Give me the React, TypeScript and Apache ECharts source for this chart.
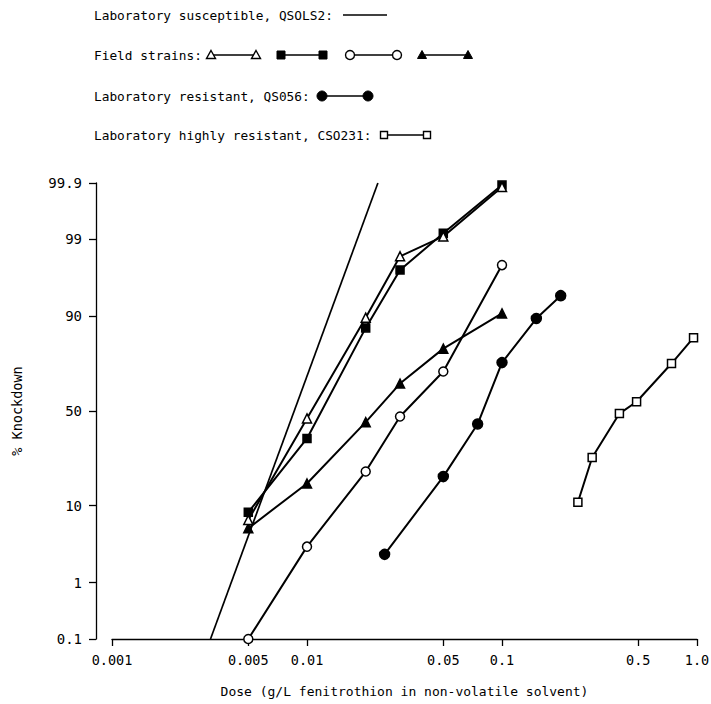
import { useEffect, useRef } from "react";
import * as echarts from "echarts";

// ---- Axis ticks ----
const xTickValues = [0.001, 0.005, 0.01, 0.05, 0.1, 0.5, 1.0];
const xTickLabels = ["0.001", "0.005", "0.01", "0.05", "0.1", "0.5", "1.0"];
const yTickValues = [0.1, 1, 10, 50, 90, 99, 99.9];
const yTickLabels = ["0.1", "1", "10", "50", "90", "99", "99.9"];

// ---- Series data (dose g/L, % knockdown) ----
const susceptibleDoses = [0.0032, 0.0231];
const susceptiblePct = [0.1, 99.9];

const fieldDoses = [0.005, 0.01, 0.02, 0.03, 0.05, 0.1];
const fieldOpenTriangle = [7, 46, 89.7, 98.2, 99.1, 99.88];
const fieldFilledSquare = [8.5, 35.5, 87, 97.2, 99.2, 99.89];
const fieldOpenCircle = [0.1, 3.3, 20.6, 47, 70.4, 97.6];
const fieldFilledTriangle = [5.6, 16.3, 44, 64.5, 80.1, 90.7];

const qs056Doses = [0.025, 0.05, 0.075, 0.1, 0.15, 0.2];
const qs056Pct = [2.6, 18.7, 43, 74.4, 89.5, 94.1];

const cso231Doses = [0.245, 0.29, 0.4, 0.49, 0.74, 0.96];
const cso231Pct = [10.8, 26.4, 48.6, 55, 74, 84];

const FONT = "'DejaVu Sans Mono', monospace";

function probit(p: number): number {
  const a = [-3.969683028665376e1, 2.209460984245205e2, -2.759285104469687e2, 1.38357751867269e2, -3.066479806614716e1, 2.506628277459239];
  const b = [-5.447609879822406e1, 1.615858368580409e2, -1.556989798598866e2, 6.680131188771972e1, -1.328068155288572e1];
  const c = [-7.784894002430293e-3, -3.223964580411365e-1, -2.400758277161838, -2.549732539343734, 4.374664141464968, 2.938163982698783];
  const d = [7.784695709041462e-3, 3.224671290700398e-1, 2.445134137142996, 3.754408661907416];
  const plow = 0.02425;
  const phigh = 1 - plow;
  if (p < plow) {
    const q = Math.sqrt(-2 * Math.log(p));
    return (((((c[0] * q + c[1]) * q + c[2]) * q + c[3]) * q + c[4]) * q + c[5]) /
      ((((d[0] * q + d[1]) * q + d[2]) * q + d[3]) * q + 1);
  }
  if (p <= phigh) {
    const q = p - 0.5;
    const r = q * q;
    return ((((((a[0] * r + a[1]) * r + a[2]) * r + a[3]) * r + a[4]) * r + a[5]) * q) /
      (((((b[0] * r + b[1]) * r + b[2]) * r + b[3]) * r + b[4]) * r + 1);
  }
  const q = Math.sqrt(-2 * Math.log(1 - p));
  return -(((((c[0] * q + c[1]) * q + c[2]) * q + c[3]) * q + c[4]) * q + c[5]) /
    ((((d[0] * q + d[1]) * q + d[2]) * q + d[3]) * q + 1);
}

const zOf = (pct: number) => probit(pct / 100);
const lxOf = (d: number) => Math.log10(d);

const yMax = zOf(99.9);
const yMin = zOf(0.1);

function pts(doses: number[], pcts: number[]) {
  return doses.map((d, i) => [lxOf(d), zOf(pcts[i])]);
}

function mkSeries(name: string, doses: number[], pcts: number[], symbol: string, size: number, filled: boolean) {
  return {
    name,
    type: "line",
    data: pts(doses, pcts),
    symbol,
    symbolSize: size,
    clip: false,
    lineStyle: { color: "#000", width: 2 },
    itemStyle: {
      color: filled ? "#000" : "#fff",
      borderColor: "#000",
      borderWidth: 1.5,
      opacity: 1,
    },
    emphasis: { disabled: true },
    z: 3,
  };
}

function marker(kind: string, x: number, y: number): any {
  const open = { fill: "#fff", stroke: "#000", lineWidth: 1.4 };
  const full = { fill: "#000", stroke: "#000", lineWidth: 1 };
  switch (kind) {
    case "triOpen":
      return { type: "polygon", shape: { points: [[x, y - 4.5], [x + 4.5, y + 3.5], [x - 4.5, y + 3.5]] }, style: open, z: 10 };
    case "triFull":
      return { type: "polygon", shape: { points: [[x, y - 4.5], [x + 4.5, y + 3.5], [x - 4.5, y + 3.5]] }, style: full, z: 10 };
    case "sqFull":
      return { type: "rect", shape: { x: x - 4, y: y - 4, width: 8, height: 8 }, style: full, z: 10 };
    case "sqOpen":
      return { type: "rect", shape: { x: x - 3.5, y: y - 3.5, width: 7, height: 7 }, style: open, z: 10 };
    case "cirOpen":
      return { type: "circle", shape: { cx: x, cy: y, r: 4.5 }, style: open, z: 10 };
    case "cirFull":
      return { type: "circle", shape: { cx: x, cy: y, r: 5 }, style: full, z: 10 };
  }
  return null;
}

function legendPair(kind: string, x1: number, x2: number, y: number): any[] {
  return [
    { type: "line", shape: { x1, y1: y, x2, y2: y }, style: { stroke: "#000", lineWidth: 1.6 }, z: 9 },
    marker(kind, x1, y),
    marker(kind, x2, y),
  ];
}

function legendText(text: string, y: number): any {
  return {
    type: "text",
    x: 94,
    y,
    style: { text, fontFamily: FONT, fontSize: 12.8, fill: "#000", verticalAlign: "middle", align: "left" },
    z: 10,
  };
}

export default function App() {
  const ref = useRef<HTMLDivElement>(null);
  useEffect(() => {
    const chart = echarts.init(ref.current as HTMLDivElement, null, { renderer: "svg" });
    const xTickPos = xTickValues.map(lxOf);
    const yTickPos = yTickValues.map(zOf);
    const findLabel = (v: number, pos: number[], labels: string[]) => {
      for (let i = 0; i < pos.length; i++) if (Math.abs(pos[i] - v) < 1e-6) return labels[i];
      return "";
    };

    const graphic: any[] = [
      legendText("Laboratory susceptible, QSOLS2:", 15),
      { type: "line", shape: { x1: 343, y1: 15, x2: 387, y2: 15 }, style: { stroke: "#000", lineWidth: 1.6 } },
      legendText("Field strains:", 55),
      ...legendPair("triOpen", 211, 256, 55),
      ...legendPair("sqFull", 281, 323, 55),
      ...legendPair("cirOpen", 350, 397, 55),
      ...legendPair("triFull", 422, 468, 55),
      legendText("Laboratory resistant, QS056:", 96),
      ...legendPair("cirFull", 322, 368, 96),
      legendText("Laboratory highly resistant, CSO231:", 135),
      ...legendPair("sqOpen", 384, 427, 135),
    ];

    const option: any = {
      animation: false,
      backgroundColor: "#fff",
      grid: {
        left: 112,
        right: 14,
        top: 183,
        bottom: 65,
        containLabel: false,
        outerBoundsMode: "none",
      },
      xAxis: {
        type: "value",
        min: -3,
        max: 0,
        name: "Dose (g/L fenitrothion in non-volatile solvent)",
        nameLocation: "middle",
        nameGap: 46,
        nameTextStyle: { fontFamily: FONT, fontSize: 13, color: "#000" },
        axisLine: { show: true, onZero: false, lineStyle: { color: "#000", width: 1.3 } },
        axisTick: { show: true, inside: false, length: 7, customValues: xTickPos, lineStyle: { color: "#000", width: 1.3 } },
        axisLabel: {
          customValues: xTickPos,
          margin: 14,
          fontFamily: FONT,
          fontSize: 13.5,
          color: "#000",
          formatter: (v: number) => findLabel(v, xTickPos, xTickLabels),
        },
        splitLine: { show: false },
      },
      yAxis: {
        type: "value",
        min: yMin,
        max: yMax,
        offset: 16,
        name: "% Knockdown",
        nameLocation: "middle",
        nameRotate: 90,
        nameGap: 72,
        nameTextStyle: { fontFamily: FONT, fontSize: 13.5, color: "#000" },
        axisLine: { show: true, onZero: false, lineStyle: { color: "#000", width: 1.3 } },
        axisTick: { show: true, inside: false, length: 7, customValues: yTickPos, lineStyle: { color: "#000", width: 1.3 } },
        axisLabel: {
          customValues: yTickPos,
          margin: 14,
          fontFamily: FONT,
          fontSize: 14,
          color: "#000",
          formatter: (v: number) => findLabel(v, yTickPos, yTickLabels),
        },
        splitLine: { show: false },
      },
      series: [
        {
          name: "QSOLS2",
          type: "line",
          data: pts(susceptibleDoses, susceptiblePct),
          symbol: "none",
          clip: false,
          lineStyle: { color: "#000", width: 1.7 },
          emphasis: { disabled: true },
        },
        mkSeries("Field 4", fieldDoses, fieldFilledTriangle, "triangle", 9, true),
        mkSeries("Field 3", fieldDoses, fieldOpenCircle, "circle", 9, false),
        mkSeries("Field 2", fieldDoses, fieldFilledSquare, "rect", 8, true),
        mkSeries("Field 1", fieldDoses, fieldOpenTriangle, "triangle", 9, false),
        mkSeries("QS056", qs056Doses, qs056Pct, "circle", 10, true),
        mkSeries("CSO231", cso231Doses, cso231Pct, "rect", 8, false),
      ],
      graphic,
    };
    chart.setOption(option);
    return () => chart.dispose();
  }, []);
  return (
    <div
      ref={ref}
      style={{ position: "fixed", left: 0, top: 0, width: 711, height: 704, background: "#fff" }}
    />
  );
}
